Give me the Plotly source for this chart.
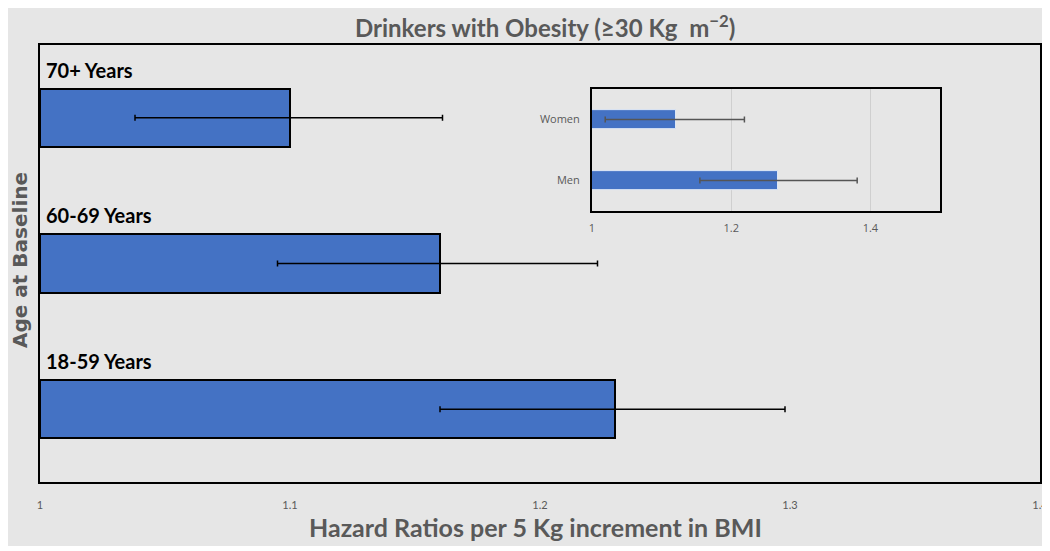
import plotly.graph_objects as go

# Main chart data
age_groups = ["18-59 Years", "60-69 Years", "70+ Years"]
age_hr = [1.23, 1.16, 1.10]
age_lo = [1.160, 1.095, 1.038]
age_hi = [1.298, 1.223, 1.161]
main_ticks = [1, 1.1, 1.2, 1.3, 1.4]

# Inset data
sexes = ["Men", "Women"]
sex_hr = [1.267, 1.12]
sex_lo = [1.155, 1.019]
sex_hi = [1.381, 1.219]
inset_ticks = [1, 1.2, 1.4]

GRAY_BG = "#e6e6e6"
BLUE = "#4472c4"
TXT = "#595959"

fig = go.Figure()

ypos = list(range(len(age_groups)))
fig.add_trace(go.Bar(
    y=ypos, x=[v - 1 for v in age_hr], base=1, orientation="h",
    width=0.4,
    marker=dict(color=BLUE, line=dict(color="black", width=2)),
    error_x=dict(type="data", symmetric=False,
                 array=[h - v for h, v in zip(age_hi, age_hr)],
                 arrayminus=[v - l for l, v in zip(age_lo, age_hr)],
                 color="black", thickness=1.5, width=3),
    xaxis="x", yaxis="y", showlegend=False, hoverinfo="skip",
))

spos = list(range(len(sexes)))
fig.add_trace(go.Bar(
    y=spos, x=[v - 1 for v in sex_hr], base=1, orientation="h",
    width=0.3,
    marker=dict(color=BLUE, line=dict(color="#dce6f5", width=1)),
    error_x=dict(type="data", symmetric=False,
                 array=[h - v for h, v in zip(sex_hi, sex_hr)],
                 arrayminus=[v - l for l, v in zip(sex_lo, sex_hr)],
                 color="#555555", thickness=1.5, width=3),
    xaxis="x2", yaxis="y2", showlegend=False, hoverinfo="skip",
))

annotations = []
for i, g in enumerate(age_groups):
    annotations.append(dict(
        x=1.0, y=i + 0.235, xref="x", yref="y", text=g, showarrow=False,
        xanchor="left", yanchor="bottom", xshift=4,
        font=dict(family="Lato, Open Sans, sans-serif", size=20, color="black", weight="bold"),
    ))

annotations.append(dict(
    x=0.505, y=1.0847, xref="paper", yref="paper",
    text="Drinkers with Obesity (≥30 Kg  m<sup>−2</sup>)", showarrow=False,
    xanchor="center", yanchor="top",
    font=dict(family="Lato, Open Sans, sans-serif", size=24, color=TXT, weight="bold"),
))
annotations.append(dict(
    x=0.495, y=-0.103, xref="paper", yref="paper",
    text="Hazard Ratios per 5 Kg increment in BMI", showarrow=False,
    xanchor="center", yanchor="middle",
    font=dict(family="Lato, Open Sans, sans-serif", size=25, color=TXT, weight="bold"),
))
annotations.append(dict(
    x=-0.02, y=0.508, xref="paper", yref="paper",
    text="Age at Baseline", showarrow=False, textangle=-90,
    xanchor="center", yanchor="middle",
    font=dict(family="DejaVu Sans, sans-serif", size=20, color=TXT, weight="bold"),
))

fig.update_layout(
    width=1042, height=543,
    margin=dict(l=32, r=10, t=37, b=69, autoexpand=False),
    paper_bgcolor="white",
    plot_bgcolor=GRAY_BG,
    bargap=0,
    xaxis=dict(
        domain=[0, 1], range=[1, 1.4], tickvals=main_ticks,
        ticktext=[str(t) for t in main_ticks],
        showgrid=False, zeroline=False, automargin=False,
        showline=True, linecolor="black", linewidth=2, mirror=True,
        ticks="", ticklabelstandoff=12,
        tickfont=dict(family="Liberation Sans Narrow, Lato, sans-serif", size=11, color=TXT),
    ),
    yaxis=dict(
        domain=[0, 1], range=[-0.5, 2.5], showticklabels=False, automargin=False,
        showgrid=False, zeroline=False,
        showline=True, linecolor="black", linewidth=2, mirror=True, ticks="",
    ),
    xaxis2=dict(
        domain=[0.552, 0.900], anchor="y2", range=[1, 1.5],
        tickvals=inset_ticks, ticktext=["1", "1.2", "1.4"], automargin=False,
        showgrid=True, gridcolor="#cfcfcf", gridwidth=1, zeroline=False,
        showline=True, linecolor="black", linewidth=2, mirror=True,
        ticks="", ticklabelstandoff=6,
        tickfont=dict(family="Open Sans, sans-serif", size=11, color=TXT),
    ),
    yaxis2=dict(
        domain=[0.620, 0.899], anchor="x2", range=[-0.5, 1.5],
        tickvals=spos, ticktext=sexes, automargin=False,
        showgrid=False, zeroline=False,
        showline=True, linecolor="black", linewidth=2, mirror=True,
        ticks="", ticklabelstandoff=8,
        tickfont=dict(family="Open Sans, sans-serif", size=11, color=TXT),
    ),
    annotations=annotations,
    shapes=[dict(
        type="rect", xref="paper", yref="paper",
        x0=-0.034, x1=1.003, y0=-0.1465, y1=1.0915,
        fillcolor=GRAY_BG, line=dict(width=0), layer="below",
    )],
)

fig.write_html("out.html")
